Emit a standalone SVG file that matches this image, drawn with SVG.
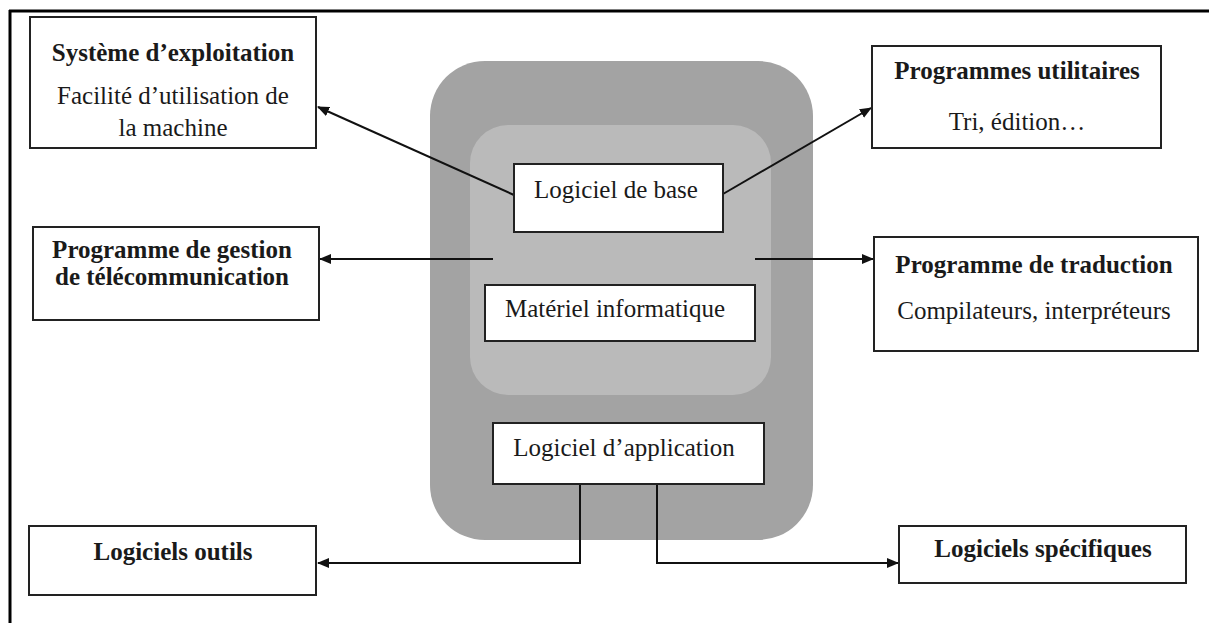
<svg xmlns="http://www.w3.org/2000/svg" width="1209" height="623" viewBox="0 0 1209 623">
<defs>
<style>
.box{fill:#ffffff;stroke:#222;stroke-width:2}
.t{font-family:"Liberation Serif","Times New Roman",serif;font-size:25px;fill:#1a1a1a;text-anchor:middle}
.b{font-weight:bold}
.c{fill:none;stroke:#111;stroke-width:2}
</style>
<marker id="ah" viewBox="0 0 12 10" refX="11" refY="5" markerWidth="12" markerHeight="10" markerUnits="userSpaceOnUse" orient="auto">
<path d="M0,0 L12,5 L0,10 z" fill="#111"/>
</marker>
</defs>
<rect x="0" y="0" width="1209" height="623" fill="#ffffff"/>
<g id="frame">
<line x1="9" y1="11" x2="1209" y2="11" stroke="#000" stroke-width="3"/>
<line x1="10" y1="10" x2="10" y2="623" stroke="#000" stroke-width="3"/>
</g>
<g id="central">
<rect x="430" y="61" width="383" height="479" rx="55" ry="55" fill="#a3a3a3"/>
<rect x="470" y="125" width="301" height="270" rx="38" ry="38" fill="#bababa"/>
</g>
<g id="connectors">
<line class="c" x1="514" y1="195" x2="318" y2="107" marker-end="url(#ah)"/>
<line class="c" x1="723" y1="194" x2="871" y2="108" marker-end="url(#ah)"/>
<line class="c" x1="493" y1="259" x2="320" y2="259" marker-end="url(#ah)"/>
<line class="c" x1="755" y1="259" x2="873" y2="259" marker-end="url(#ah)"/>
<polyline class="c" points="580,484 580,563 318,563" marker-end="url(#ah)"/>
<polyline class="c" points="657,484 657,563 898,563" marker-end="url(#ah)"/>
</g>
<g id="systeme">
<rect class="box" x="30" y="17" width="286" height="131"/>
<text class="t b" x="173" y="61">Système d’exploitation</text>
<text class="t" x="173" y="104">Facilité d’utilisation de</text>
<text class="t" x="173" y="136">la machine</text>
</g>
<g id="utilitaires">
<rect class="box" x="872" y="46" width="289" height="102"/>
<text class="t b" x="1017" y="79">Programmes utilitaires</text>
<text class="t" x="1017" y="130">Tri, édition…</text>
</g>
<g id="telecom">
<rect class="box" x="33" y="227" width="286" height="93"/>
<text class="t b" x="172" y="258">Programme de gestion</text>
<text class="t b" x="172" y="285">de télécommunication</text>
</g>
<g id="traduction">
<rect class="box" x="874" y="237" width="324" height="114"/>
<text class="t b" x="1034" y="273">Programme de traduction</text>
<text class="t" x="1034" y="319">Compilateurs, interpréteurs</text>
</g>
<g id="base">
<rect class="box" x="514" y="164" width="209" height="68"/>
<text class="t" x="616" y="198">Logiciel de base</text>
</g>
<g id="materiel">
<rect class="box" x="485" y="285" width="270" height="56"/>
<text class="t" x="615" y="317">Matériel informatique</text>
</g>
<g id="application">
<rect class="box" x="493" y="423" width="271" height="61"/>
<text class="t" x="624" y="456">Logiciel d’application</text>
</g>
<g id="outils">
<rect class="box" x="29" y="526" width="287" height="69"/>
<text class="t b" x="173" y="560">Logiciels outils</text>
</g>
<g id="specifiques">
<rect class="box" x="899" y="526" width="287" height="57"/>
<text class="t b" x="1043" y="557">Logiciels spécifiques</text>
</g>
</svg>
